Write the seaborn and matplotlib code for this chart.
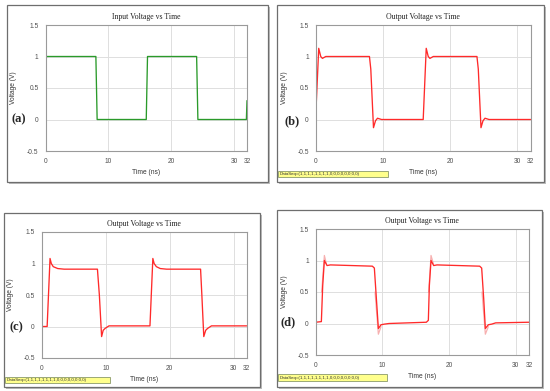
import matplotlib
matplotlib.use('Agg')
import matplotlib.pyplot as plt
import matplotlib.patches as mpatches
import pandas as pd
import seaborn as sns

#%%
# values (time in ns, voltage in V)

t_in = [0.0, 0.05, 0.15, 8.0, 8.2, 16.0, 16.2, 24.0, 24.2, 31.9, 32.0]
v_in = [0.3, 0.8, 1.0, 1.0, 0.0, 0.0, 1.0, 1.0, 0.0, 0.0, 0.3]

t_b = [0.0, 0.45, 0.75, 1.0, 1.5, 8.0, 8.2, 8.6, 8.9, 9.2, 9.8,
       16.0, 16.45, 16.75, 17.0, 17.5, 24.0, 24.2, 24.6, 24.9, 25.2, 25.8, 32.0]
v_b = [0.05, 1.13, 1.0, 0.97, 1.0, 1.0, 0.8, -0.13, -0.02, 0.02, 0.0,
       0.0, 1.13, 1.0, 0.97, 1.0, 1.0, 0.8, -0.13, -0.02, 0.02, 0.0, 0.0]

t_c = [0.0, 0.85, 1.3, 1.5, 1.8, 2.5, 3.5, 8.7, 9.0, 9.35, 9.6, 9.9, 10.5,
       16.9, 17.35, 17.55, 17.9, 18.5, 19.5, 24.8, 25.0, 25.3, 25.6, 25.9, 26.5, 32.0]
v_c = [0.0, 0.0, 1.08, 1.0, 0.95, 0.92, 0.91, 0.91, 0.5, -0.16, -0.06, -0.03, 0.01,
       0.01, 1.08, 1.0, 0.95, 0.92, 0.91, 0.91, 0.5, -0.16, -0.06, -0.03, 0.01, 0.01]

t_d = [0.0, 0.85, 1.05, 1.3, 1.7, 2.2, 8.5, 8.8, 9.1, 9.4, 9.8, 10.3, 11.0,
       16.6, 16.9, 17.05, 17.3, 17.7, 18.2, 24.6, 24.9, 25.2, 25.45, 25.9, 26.4, 27.0, 32.0]
v_d = [0.02, 0.03, 0.6, 1.0, 0.92, 0.93, 0.91, 0.88, 0.4, -0.08, -0.02, -0.01, 0.0,
       0.02, 0.05, 0.6, 1.0, 0.92, 0.93, 0.91, 0.88, 0.4, -0.08, -0.02, -0.01, 0.01, 0.02]

# faint overlay trace in (d): short pieces around each edge
t_dg = [0.9, 1.3, 1.6, 8.9, 9.4, 9.8, 16.95, 17.3, 17.65, 24.95, 25.45, 25.9]
v_dg = [0.5, 1.08, 0.95, 0.5, -0.17, -0.05, 0.5, 1.08, 0.95, 0.5, -0.17, -0.05]
seg_dg = [0, 0, 0, 1, 1, 1, 2, 2, 2, 3, 3, 3]

data_seq = 'DataSeq=(1,1,1,1,1,1,1,1,0,0,0,0,0,0,0,0)'

#%%
sns.set_style('white')
plt.rcParams['font.family'] = ['Liberation Sans', 'DejaVu Sans']

W, H = 550, 391
fig = plt.figure(figsize=(5.5, 3.91), dpi=100)


def px_rect(x0, y0, x1, y1):
    # pixel box (top-left origin) -> figure fraction
    return [x0 / W, 1 - y1 / H, (x1 - x0) / W, (y1 - y0) / H]


def frame(x0, y0, x1, y1):
    # shadow + window border round each panel
    fig.patches.append(mpatches.Rectangle((x0 / W + 1.5 / W, 1 - y1 / H - 1.5 / H), (x1 - x0) / W, (y1 - y0) / H,
                                          transform=fig.transFigure, facecolor='#bdbdbd', edgecolor='none', zorder=-3))
    fig.patches.append(mpatches.Rectangle((x0 / W, 1 - y1 / H), (x1 - x0) / W, (y1 - y0) / H,
                                          transform=fig.transFigure, facecolor='white', edgecolor='#6e6e6e',
                                          linewidth=0.9, zorder=-2))


def panel(box, t, v, color, title, letter, letter_xy, seq_box=None, ghost=None):
    ax = fig.add_axes(px_rect(*box))
    if ghost is not None:
        g = pd.DataFrame({'t': ghost[0], 'v': ghost[1], 'seg': ghost[2]})
        sns.lineplot(data=g, x='t', y='v', units='seg', ax=ax, color='#f7b0b0', linewidth=0.9,
                     estimator=None, sort=False)
    df = pd.DataFrame({'Time (ns)': t, 'Voltage (V)': v})
    sns.lineplot(data=df, x='Time (ns)', y='Voltage (V)', ax=ax, color=color, linewidth=0.95,
                 estimator=None, sort=False)
    ax.set_xlim(0, 32)
    ax.set_ylim(-0.5, 1.5)
    ax.set_xticks([0, 10, 20, 30, 32])
    ax.set_xticklabels(['0', '10', '20', '30', '32'])
    ax.set_yticks([-0.5, 0, 0.5, 1, 1.5])
    ax.set_yticklabels(['-0.5', '0', '0.5', '1', '1.5'])
    ax.grid(True, color='#dedede', linewidth=0.7)
    ax.tick_params(axis='both', length=0, labelsize=4.8, labelcolor='#505050', pad=5)
    for s in ax.spines.values():
        s.set_color('#9a9a9a')
        s.set_linewidth(0.8)
    ax.set_xlabel('Time (ns)', fontsize=4.8, color='#333333', labelpad=3)
    ax.set_ylabel('Voltage (V)', fontsize=4.8, color='#333333', labelpad=7)
    ax.set_title(title, fontsize=5.6, family='Liberation Serif', color='#222222', pad=4)
    fig.text(letter_xy[0] / W, 1 - letter_xy[1] / H, letter, fontsize=9, fontweight='bold',
             family='Liberation Serif', ha='center', va='center')
    if seq_box is not None:
        x0, y0, x1, y1 = seq_box
        fig.patches.append(mpatches.Rectangle((x0 / W, 1 - y1 / H), (x1 - x0) / W, (y1 - y0) / H,
                                              transform=fig.transFigure, facecolor='#ffff8c',
                                              edgecolor='#8a9a6a', linewidth=0.6, zorder=3))
        fig.text(x0 / W + 2 / W, 1 - (y0 + y1) / 2 / H, data_seq, fontsize=3.2, va='center',
                 color='#333333', zorder=4)
    return ax


#%%
frame(7, 5, 268, 182)
frame(277, 5, 544, 182)
frame(4, 213, 260, 387)
frame(277, 210, 542, 387)

panel((45.5, 25, 247, 151), t_in, v_in, '#2a9a2a', 'Input Voltage vs Time', '(a)', (19, 119))
panel((315.7, 25, 530.7, 151), t_b, v_b, '#ff2a2a', 'Output Voltage vs Time', '(b)', (292, 121),
      seq_box=(278, 171, 388, 177))
panel((41.7, 232, 246.7, 358), t_c, v_c, '#ff2a2a', 'Output Voltage vs Time', '(c)', (16, 327),
      seq_box=(5, 377, 110, 383))
panel((315.7, 229, 529, 355), t_d, v_d, '#ff2a2a', 'Output Voltage vs Time', '(d)', (288, 322),
      seq_box=(278, 374, 387, 381), ghost=(t_dg, v_dg, seg_dg))

fig.savefig('out.png', dpi=100)
